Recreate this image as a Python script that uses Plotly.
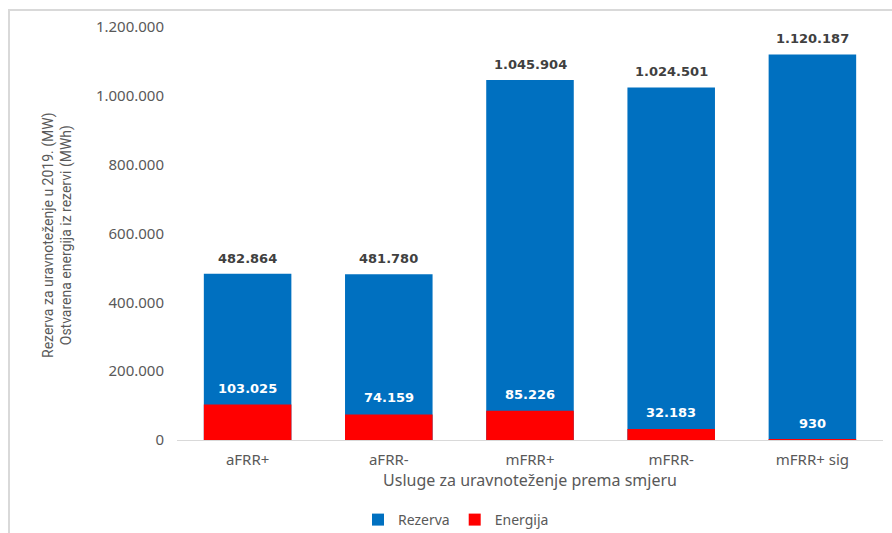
import plotly.graph_objects as go

categories = ["aFRR+", "aFRR-", "mFRR+", "mFRR-", "mFRR+ sig"]
rezerva = [482864, 481780, 1045904, 1024501, 1120187]
energija = [103025, 74159, 85226, 32183, 930]
y_ticks = [0, 200000, 400000, 600000, 800000, 1000000, 1200000]


def fmt(v):
    return f"{v:,}".replace(",", ".")


BLUE = "#0070C0"
RED = "#FF0000"
GRAY = "#595959"
FONT = "Noto Sans"

fig = go.Figure()
fig.add_trace(go.Bar(name="Rezerva", x=categories, y=rezerva, marker_color=BLUE,
                     width=0.62, marker_line_width=0))
fig.add_trace(go.Bar(name="Energija", x=categories, y=energija, marker_color=RED,
                     width=0.62, marker_line_width=0))

for c, v in zip(categories, rezerva):
    fig.add_annotation(x=c, y=v, text=fmt(v), showarrow=False, yanchor="bottom",
                       yshift=6, font=dict(family="DejaVu Sans", size=13, color="#404040", weight="bold"))
for c, v in zip(categories, energija):
    fig.add_annotation(x=c, y=v, text=fmt(v), showarrow=False, yanchor="bottom",
                       yshift=7, font=dict(family="DejaVu Sans", size=13, color="white", weight="bold"))

# y-axis title as two-line rotated text
fig.add_annotation(xref="paper", yref="paper", x=(58 - 177) / 706, y=(440 - 235) / 413,
                   text="Rezerva za uravnoteženje u 2019. (MW)<br>Ostvarena energija iz rezervi (MWh)",
                   textangle=-90, showarrow=False, xanchor="center", yanchor="middle",
                   font=dict(family="Roboto", size=14, color=GRAY))

# outer border
fig.add_shape(type="path", xref="paper", yref="paper",
              path=f"M {(9-177)/706} {(440-540)/413} L {(9-177)/706} {(440-10)/413} L {(900-177)/706} {(440-10)/413}",
              line=dict(color="#d9d9d9", width=2))

fig.update_layout(
    width=892, height=533,
    margin=dict(l=177, r=9, t=27, b=93, autoexpand=False),
    barmode="overlay",
    plot_bgcolor="white", paper_bgcolor="white",
    font=dict(family=FONT, color=GRAY),
    showlegend=True,
    legend=dict(orientation="h", xref="container", yref="container",
                x=358 / 892, y=(533 - 520) / 533, xanchor="left",
                yanchor="middle", font=dict(size=14, color=GRAY), itemwidth=30,
                traceorder="normal"),
    xaxis=dict(showline=True, linecolor="#d9d9d9", linewidth=1, showgrid=False,
               automargin=False, ticklabelstandoff=6,
               tickfont=dict(size=15, color=GRAY),
               title=dict(text="Usluge za uravnoteženje prema smjeru", standoff=4,
                          font=dict(size=16, color=GRAY))),
    yaxis=dict(range=[0, 1200000], tickvals=y_ticks, ticktext=[fmt(v) for v in y_ticks],
               showgrid=False, zeroline=False, showline=False, automargin=False,
               tickfont=dict(size=15, color=GRAY), ticklabelstandoff=12),
)

fig.write_html("out.html")
